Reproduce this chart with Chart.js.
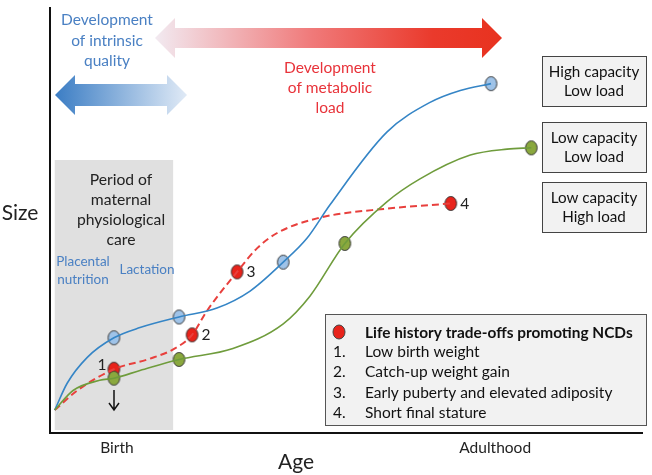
<!DOCTYPE html>
<html>
<head>
<meta charset="utf-8">
<script src="https://cdn.jsdelivr.net/npm/chart.js@4.4.1/dist/chart.umd.min.js"></script>
<style>
  html, body { margin: 0; padding: 0; background: #fff; }
  #wrap { width: 652px; height: 475px; position: relative; }
</style>
</head>
<body>
<div id="wrap"><canvas id="chart"></canvas></div>
<script>
// --- Data (abstract 0-100 age / size units) ---
const blueX = [0.8, 2.9, 6.3, 10.8, 15.2, 21.8, 28.2, 33.8, 39.4, 43.4, 47.3, 56.9, 64.2, 69.3, 74.5];
const blueY = [5.4, 11.7, 17.8, 22.4, 24.8, 27.3, 29.4, 33.4, 40.2, 45.8, 53.7, 70.8, 77.8, 80.6, 82.2];

const greenX = [0.8, 3.9, 8.4, 10.8, 15.2, 21.8, 30.9, 39.4, 43.9, 49.8, 56.9, 62.5, 71.0, 77.2, 81.3];
const greenY = [5.4, 10.0, 12.4, 12.9, 14.7, 17.3, 19.9, 25.7, 32.2, 44.6, 54.4, 59.8, 65.4, 66.8, 67.1];

const redX = [0.8, 4.6, 10.8, 16.9, 21.1, 24.0, 26.5, 31.6, 35.0, 38.3, 45.1, 56.9, 67.7];
const redY = [5.4, 10.0, 15.0, 17.5, 19.9, 23.1, 28.7, 37.9, 43.5, 47.0, 50.5, 52.8, 54.0];

const blueMarkX = [10.8, 21.8, 39.4, 74.5];
const blueMarkY = [22.4, 27.3, 40.2, 82.2];
const greenMarkX = [10.8, 21.8, 49.8, 81.3];
const greenMarkY = [12.9, 17.3, 44.6, 67.1];
const redMarkX = [10.8, 24.0, 31.6, 67.7];
const redMarkY = [15.0, 23.1, 37.9, 54.0];
const redMarkLabels = ['1', '2', '3', '4'];

const ageTickValues = [11.3, 75.2];
const ageTickLabels = ['Birth', 'Adulthood'];
const careStart = 0.8, careEnd = 20.8;

const legendTitle = 'Life history trade-offs promoting NCDs';
const legendItems = ['Low birth weight', 'Catch-up weight gain', 'Early puberty and elevated adiposity', 'Short final stature'];
const outcomeBoxes = [['High capacity', 'Low load'], ['Low capacity', 'Low load'], ['Low capacity', 'High load']];

const FONT = "Lato, 'Open Sans', sans-serif";
const BLUE_TXT = '#4a80c3';
const RED_TXT = '#e8333a';

const toPts = (xs, ys) => xs.map((x, i) => ({ x: x, y: ys[i] }));

// slightly tall oval marker, like the drawing's dots
function makeDot(fill, rx, ry) {
    const c = document.createElement('canvas');
    c.width = Math.ceil(rx * 2 + 3);
    c.height = Math.ceil(ry * 2 + 3);
    const g = c.getContext('2d');
    g.beginPath();
    g.ellipse(c.width / 2, c.height / 2, rx, ry, 0, 0, Math.PI * 2);
    g.fillStyle = fill;
    g.fill();
    g.strokeStyle = '#333';
    g.lineWidth = 1;
    g.stroke();
    return c;
}

function arrow(ctx, x1, x2, yc, shaft, head, headLen, grad) {
    ctx.beginPath();
    ctx.moveTo(x1, yc);
    ctx.lineTo(x1 + headLen, yc - head);
    ctx.lineTo(x1 + headLen, yc - shaft);
    ctx.lineTo(x2 - headLen, yc - shaft);
    ctx.lineTo(x2 - headLen, yc - head);
    ctx.lineTo(x2, yc);
    ctx.lineTo(x2 - headLen, yc + head);
    ctx.lineTo(x2 - headLen, yc + shaft);
    ctx.lineTo(x1 + headLen, yc + shaft);
    ctx.lineTo(x1 + headLen, yc + head);
    ctx.closePath();
    ctx.fillStyle = grad;
    ctx.fill();
}

function lines(ctx, arr, x, y0, dy) {
    arr.forEach((t, i) => ctx.fillText(t, x, y0 + i * dy));
}

// --- Background: maternal care period ---
const backdrop = {
    id: 'backdrop',
    beforeDatasetsDraw(chart) {
        const { ctx, scales: { x } } = chart;
        const a = chart.chartArea;
        ctx.save();
        ctx.fillStyle = '#e0e0e0';
        const l = x.getPixelForValue(careStart), r = x.getPixelForValue(careEnd);
        ctx.fillRect(l, 160, r - l, a.bottom - 3 - 160);

        ctx.fillStyle = '#222';
        ctx.font = `15.7px ${FONT}`;
        ctx.textAlign = 'center';
        ctx.textBaseline = 'middle';
        lines(ctx, ['Period of', 'maternal', 'physiological', 'care'], 121, 180, 20);

        ctx.fillStyle = BLUE_TXT;
        ctx.font = `13.5px ${FONT}`;
        lines(ctx, ['Placental', 'nutrition'], 83, 262, 18);
        ctx.fillText('Lactation', 147, 270);

        // down arrow under birth weight
        ctx.strokeStyle = '#111';
        ctx.lineWidth = 1.5;
        ctx.beginPath();
        ctx.moveTo(114, 390); ctx.lineTo(114, 409);
        ctx.moveTo(109, 403); ctx.lineTo(114, 410); ctx.lineTo(119, 403);
        ctx.stroke();
        ctx.restore();
    }
};

// --- Overlay: arrows, labels and boxes ---
const overlay = {
    id: 'overlay',
    afterDatasetsDraw(chart) {
        const { ctx, scales: { x, y } } = chart;
        ctx.save();

        // blue double arrow
        let g = ctx.createLinearGradient(55, 0, 187, 0);
        g.addColorStop(0, '#3b7dc4');
        g.addColorStop(1, '#e0eaf6');
        arrow(ctx, 55, 187, 95, 11, 20, 20, g);

        // red double arrow
        g = ctx.createLinearGradient(155, 0, 502, 0);
        g.addColorStop(0, '#f2eaf1');
        g.addColorStop(0.45, '#f07a7a');
        g.addColorStop(0.8, '#ea3a2c');
        g.addColorStop(1, '#e8321f');
        arrow(ctx, 155, 502, 38, 10, 20, 20, g);

        ctx.textAlign = 'center';
        ctx.textBaseline = 'middle';
        ctx.font = `15.5px ${FONT}`;
        ctx.fillStyle = BLUE_TXT;
        lines(ctx, ['Development', 'of intrinsic', 'quality'], 107, 20, 20.5);
        ctx.fillStyle = RED_TXT;
        lines(ctx, ['Development', 'of metabolic', 'load'], 330, 68, 20);

        // axis names
        ctx.fillStyle = '#222';
        ctx.font = `21px ${FONT}`;
        ctx.fillText('Size', 20, 213);
        ctx.fillText('Age', 296, 462);

        // numbered red markers
        ctx.font = `15.5px ${FONT}`;
        ctx.fillStyle = '#222';
        redMarkLabels.forEach((t, i) => {
            const px = x.getPixelForValue(redMarkX[i]);
            const py = y.getPixelForValue(redMarkY[i]);
            const dx = i === 0 ? -12 : 14;
            ctx.fillText(t, px + dx, py - (i === 0 ? 4 : 0));
        });

        // outcome boxes on the right
        const boxTops = [56, 122, 182];
        outcomeBoxes.forEach((b, i) => {
            ctx.fillStyle = '#f2f2f2';
            ctx.fillRect(542, boxTops[i], 104, 50);
            ctx.strokeStyle = '#444';
            ctx.lineWidth = 1;
            ctx.strokeRect(542.5, boxTops[i] + 0.5, 104, 50);
            ctx.fillStyle = '#111';
            ctx.font = `15.2px ${FONT}`;
            lines(ctx, b, 594, boxTops[i] + 16, 19);
        });

        // legend box
        ctx.fillStyle = '#f2f2f2';
        ctx.fillRect(325, 314, 321, 111);
        ctx.strokeStyle = '#555';
        ctx.strokeRect(325.5, 314.5, 321, 111);
        ctx.beginPath();
        ctx.ellipse(339, 332, 6, 7, 0, 0, Math.PI * 2);
        ctx.fillStyle = '#e8231b';
        ctx.fill();
        ctx.strokeStyle = '#444';
        ctx.stroke();

        ctx.textAlign = 'left';
        ctx.fillStyle = '#111';
        ctx.font = `bold 15.4px ${FONT}`;
        ctx.fillText(legendTitle, 365, 333);
        ctx.font = `15.5px ${FONT}`;
        legendItems.forEach((t, i) => {
            ctx.fillText((i + 1) + '.', 333, 352 + i * 20.3);
            ctx.fillText(t, 365, 352 + i * 20.3);
        });
        ctx.restore();
    }
};

const markerStyle = (fill) => ({
    showLine: false,
    pointStyle: makeDot(fill, 5.8, 7),
    pointRadius: 7,
    pointHoverRadius: 7
});

new Chart(document.getElementById('chart'), {
    type: 'scatter',
    data: {
        datasets: [
            { data: toPts(greenX, greenY), showLine: true, borderColor: '#6f9c3c', borderWidth: 1.6, pointRadius: 0, cubicInterpolationMode: 'monotone' },
            { data: toPts(blueX, blueY), showLine: true, borderColor: '#3585c6', borderWidth: 1.6, pointRadius: 0, cubicInterpolationMode: 'monotone' },
            { data: toPts(redX, redY), showLine: true, borderColor: '#e8403d', borderWidth: 2, borderDash: [7, 4], pointRadius: 0, cubicInterpolationMode: 'monotone' },
            { data: toPts(greenMarkX, greenMarkY), ...markerStyle('#8aa83e') },
            { data: toPts(blueMarkX, blueMarkY), ...markerStyle('#9fc3e8') },
            { data: toPts(redMarkX, redMarkY), ...markerStyle('#e8231b') }
        ]
    },
    options: {
        responsive: true,
        maintainAspectRatio: false,
        animation: false,
        events: [],
        layout: { padding: { left: 50, right: 10, top: 5, bottom: 0 } },
        plugins: { legend: { display: false }, tooltip: { enabled: false } },
        scales: {
            x: {
                type: 'linear', min: 0, max: 100,
                grid: { display: false, drawTicks: false },
                border: { display: true, color: '#111', width: 2 },
                afterBuildTicks: (s) => { s.ticks = ageTickValues.map(v => ({ value: v })); },
                afterFit: (s) => { s.height = 42; },
                ticks: {
                    padding: 6,
                    color: '#222',
                    font: { family: FONT, size: 15.5 },
                    callback: (v) => ageTickLabels[ageTickValues.indexOf(v)]
                }
            },
            y: {
                type: 'linear', min: 0, max: 100,
                grid: { display: false, drawTicks: false },
                border: { display: true, color: '#111', width: 2 },
                ticks: { display: false },
                afterFit: (s) => { s.width = 0; }
            }
        }
    },
    plugins: [backdrop, overlay]
});
</script>
</body>
</html>
